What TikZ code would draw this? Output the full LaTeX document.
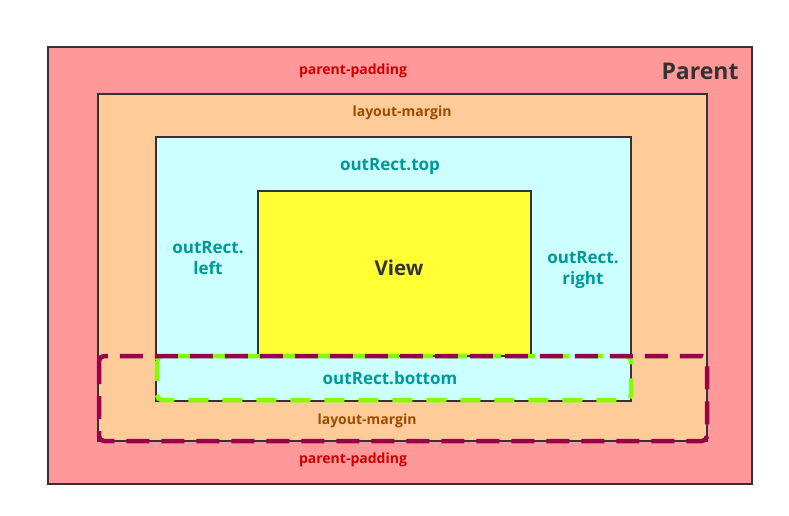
\documentclass[tikz,border=0pt]{standalone}
\usepackage{fontspec}
\setmainfont{Open Sans}
\definecolor{paddingfill}{HTML}{FF9999}
\definecolor{marginfill}{HTML}{FFCC99}
\definecolor{rectfill}{HTML}{CCFFFF}
\definecolor{viewfill}{HTML}{FFFF33}
\definecolor{paddingtext}{HTML}{CC0000}
\definecolor{margintext}{HTML}{994C00}
\definecolor{recttext}{HTML}{009999}
\definecolor{darktext}{HTML}{333333}
\definecolor{marginline}{HTML}{99004C}
\definecolor{bottomline}{HTML}{80FF00}

\begin{document}
\begin{tikzpicture}[x=1pt, y=-1pt,
  box/.style={draw=darktext, line width=1.4pt},
  smalltag/.style={font=\bfseries\fontsize{14}{16}\selectfont, inner sep=0pt},
  recttag/.style={font=\bfseries\fontsize{17}{21}\selectfont, text=recttext, align=center, inner sep=0pt},
  bigtag/.style={font=\bfseries\fontsize{23}{27}\selectfont, text=darktext, inner sep=0pt}]
  % Page size in pixels of the reference
  \useasboundingbox (0,0) rectangle (789,516);
  % Nested boxes, outside in: parent, margin, outRect, view
  \draw[box, fill=paddingfill] (48,47) rectangle (752,484);
  \draw[box, fill=marginfill] (98,94) rectangle (707,441);
  \draw[box, fill=rectfill] (156,137) rectangle (631,401);
  \draw[box, fill=viewfill] (258,191) rectangle (531,356);
  % Dashed outlines round the bottom strips
  \draw[bottomline, line width=4.5pt, rounded corners=5pt,
        dash pattern=on 20pt off 14pt] (157,356) rectangle (631,400);
  \draw[marginline, line width=4.5pt, rounded corners=5pt,
        dash pattern=on 23pt off 12pt] (99,356) rectangle (707,441);
  % Labels
  \node[smalltag, text=paddingtext] (padtop) at (353,71) {parent-padding};
  \node[smalltag, text=paddingtext] (padbottom) at (353,460) {parent-padding};
  \node[smalltag, text=margintext] (margintop) at (402,113) {layout-margin};
  \node[smalltag, text=margintext] (marginbottom) at (367,421) {layout-margin};
  \node[bigtag] (parent) at (700,71) {Parent};
  \node[bigtag, font=\bfseries\fontsize{20.5}{24}\selectfont] (view) at (399,268) {View};
  \node[recttag] (recttop) at (390,166) {outRect.top};
  \node[recttag] (rectleft) at (208,258) {outRect.\\left};
  \node[recttag] (rectright) at (583,270) {outRect.\\right};
  \node[recttag] (rectbottom) at (390,378) {outRect.bottom};
\end{tikzpicture}
\end{document}
